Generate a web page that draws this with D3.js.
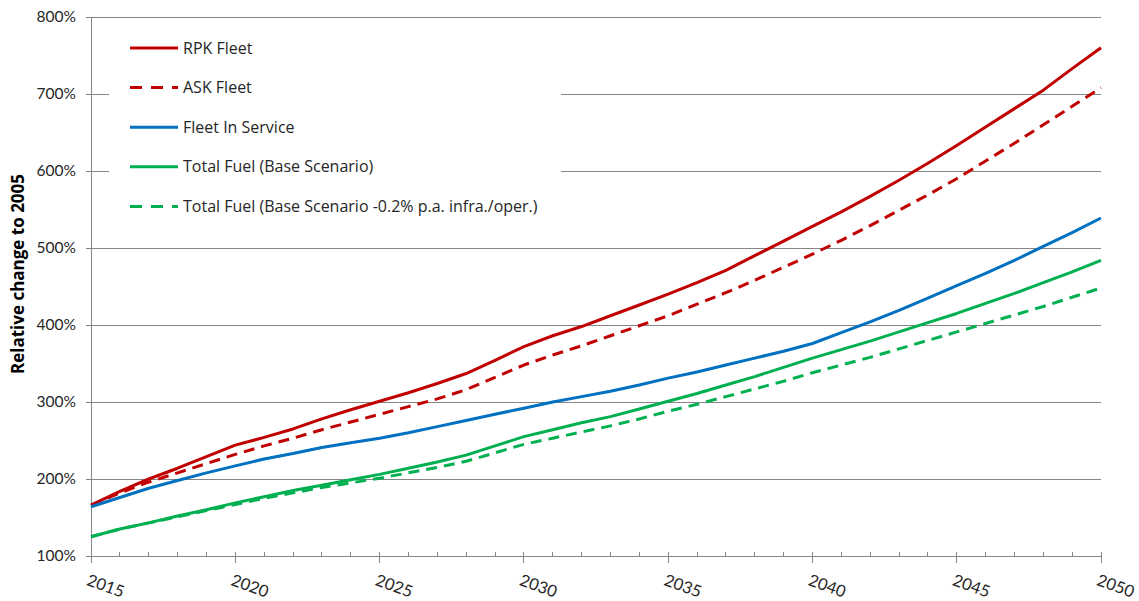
<!DOCTYPE html>
<html>
<head>
<meta charset="utf-8">
<title>Relative change to 2005</title>
<script src="https://d3js.org/d3.v7.min.js" charset="utf-8"></script>
<style>
  body {margin: 0; background: #fff; font-family: Lato, "Open Sans", sans-serif;}
  svg {display: block;}
</style>
</head>
<body>
<script>
// data (percent of 2005)
const years = d3.range(2015, 2051);
const rpkFleet = [166,184,200,214,229,244,254,265,278,290,301,312,324,337,354,372,386,398,412,426,
                  440,455,471,490,509,528,547,567,588,610,633,657,681,705,733,760];
const askFleet = [166,182,196,208,220,232,243,253,264,274,284,294,304,316,332,348,361,373,386,399,
                  412,427,442,458,475,492,510,529,549,569,590,613,636,660,684,708];
const fleetInService = [164,176,188,198,208,217,226,233,241,247,253,260,268,276,284,292,300,307,314,322,
                        331,339,348,357,366,376,390,404,419,435,451,467,484,502,520,539];
const fuelBase = [125,135,143,152,160,169,177,185,192,199,206,214,222,231,243,255,264,273,281,291,
                  301,311,322,333,345,357,368,379,391,403,415,428,441,455,469,484];
const fuelReduced = [125,135,143,151,159,167,175,182,189,195,201,208,215,223,234,245,253,261,269,278,
                     288,297,307,317,327,338,348,358,369,380,391,402,413,424,436,448];
const yTicks = [100,200,300,400,500,600,700,800];
const xLabels = [2015,2020,2025,2030,2035,2040,2045,2050];

const series = [
  {name: "RPK Fleet", values: rpkFleet, color: "#C00000", dash: null},
  {name: "ASK Fleet", values: askFleet, color: "#C00000", dash: "11,7"},
  {name: "Fleet In Service", values: fleetInService, color: "#0070C0", dash: null},
  {name: "Total Fuel (Base Scenario)", values: fuelBase, color: "#00B050", dash: null},
  {name: "Total Fuel (Base Scenario -0.2% p.a. infra./oper.)", values: fuelReduced, color: "#00B050", dash: "11,7"}
];

const width = 1139, height = 601;
const margin = {left: 91, right: 38, top: 17, bottom: 45};
const gridColor = "#868686";

const svg = d3.select("body").append("svg")
  .attr("width", width).attr("height", height);

const x = d3.scaleLinear().domain([2015, 2050]).range([margin.left, width - margin.right]);
const y = d3.scaleLinear().domain([100, 800]).range([height - margin.bottom, margin.top]);

// horizontal gridlines
svg.append("g").selectAll("line")
  .data(yTicks.filter(d => d > 100))
  .join("line")
  .attr("x1", margin.left).attr("x2", width - margin.right)
  .attr("y1", d => y(d)).attr("y2", d => y(d))
  .attr("stroke", gridColor).attr("stroke-width", 1)
  .attr("shape-rendering", "crispEdges");

// y axis
const yAxis = svg.append("g")
  .attr("transform", `translate(${margin.left},0)`)
  .call(d3.axisLeft(y).tickValues(yTicks).tickFormat(d => d + "%").tickSize(5).tickPadding(10));
yAxis.select(".domain").attr("stroke", gridColor).attr("shape-rendering", "crispEdges");
yAxis.selectAll(".tick line").attr("stroke", gridColor).attr("shape-rendering", "crispEdges");
yAxis.selectAll("text").attr("font-size", "15.5px").attr("fill", "#262626")
  .attr("font-family", "Lato, sans-serif");

// x axis: minor ticks every year, major every 5
const xAxisG = svg.append("g").attr("transform", `translate(0,${y(100)})`);
xAxisG.append("line")
  .attr("x1", margin.left).attr("x2", width - margin.right)
  .attr("stroke", gridColor).attr("shape-rendering", "crispEdges");
xAxisG.selectAll("line.minor")
  .data(years)
  .join("line")
  .attr("class", "minor")
  .attr("x1", d => x(d)).attr("x2", d => x(d))
  .attr("y1", -4)
  .attr("y2", d => xLabels.includes(d) ? 7 : 0)
  .attr("stroke", gridColor).attr("shape-rendering", "crispEdges");
xAxisG.selectAll("text")
  .data(xLabels)
  .join("text")
  .attr("transform", d => `translate(${x(d) - 1},17) rotate(20)`)
  .attr("dy", "0.75em")
  .attr("font-size", "16.5px")
  .attr("fill", "#262626")
  .text(d => d);

// y axis title
svg.append("text")
  .attr("transform", `translate(24,274) rotate(-90)`)
  .attr("text-anchor", "middle")
  .attr("font-family", "'Open Sans', sans-serif")
  .attr("font-size", "17px")
  .attr("font-weight", "bold")
  .attr("fill", "#000")
  .text("Relative change to 2005");

// legend background hides gridlines behind it
svg.append("rect")
  .attr("x", 109).attr("y", 28).attr("width", 452).attr("height", 210)
  .attr("fill", "#fff");

// lines
const line = d3.line()
  .x((d, i) => x(years[i]))
  .y(d => y(d));

svg.append("g").selectAll("path")
  .data(series)
  .join("path")
  .attr("d", d => line(d.values))
  .attr("fill", "none")
  .attr("stroke", d => d.color)
  .attr("stroke-width", 3)
  .attr("stroke-dasharray", d => d.dash)
  .attr("stroke-linejoin", "round");

// legend
const legend = svg.append("g").attr("transform", "translate(130,48)");
const item = legend.selectAll("g")
  .data(series)
  .join("g")
  .attr("transform", (d, i) => `translate(0,${i * 39.6})`);
item.append("line")
  .attr("x1", 0).attr("x2", 48)
  .attr("stroke", d => d.color)
  .attr("stroke-width", 3)
  .attr("stroke-dasharray", d => d.dash ? "12,9" : null);
item.append("text")
  .attr("x", 53).attr("dy", "0.35em")
  .attr("font-family", "'Open Sans', sans-serif")
  .attr("font-size", "16px")
  .attr("fill", "#262626")
  .text(d => d.name);
</script>
</body>
</html>
